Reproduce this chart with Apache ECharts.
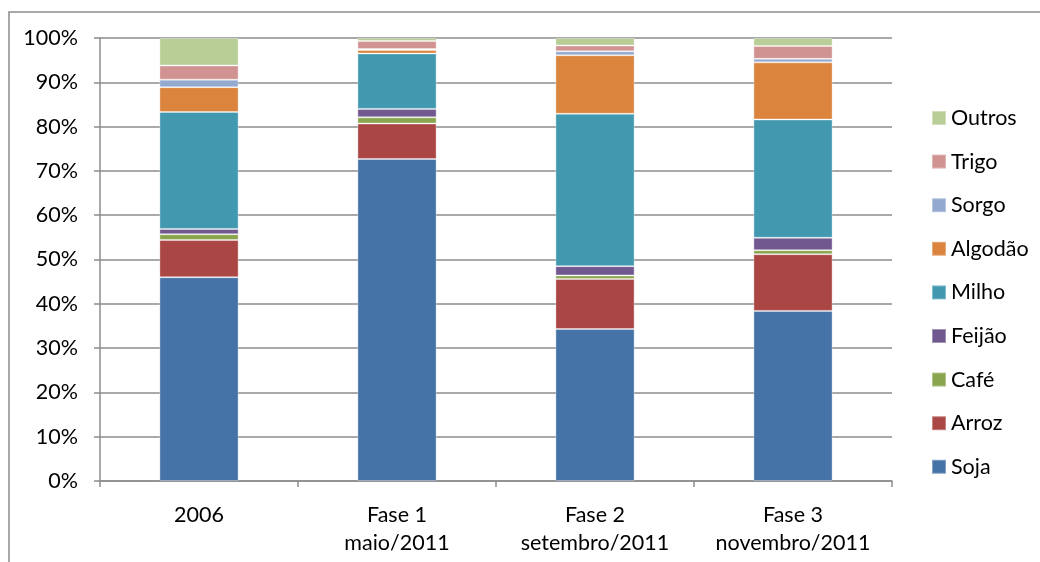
<!DOCTYPE html>
<html>
<head>
<meta charset="utf-8">
<script src="https://cdn.jsdelivr.net/npm/echarts@6/dist/echarts.min.js"></script>
<style>
  html, body { margin: 0; padding: 0; background: #ffffff; }
  #chart { width: 1040px; height: 562px; }
</style>
</head>
<body>
<div id="chart"></div>
<script>
// Categories (x axis)
const categories = ['2006', 'Fase 1\nmaio/2011', 'Fase 2\nsetembro/2011', 'Fase 3\nnovembro/2011'];

// Share of each crop per period (%)
const soja    = [46.0, 72.7, 34.3, 38.4];
const arroz   = [8.4, 8.0, 11.3, 12.8];
const cafe    = [1.3, 1.4, 0.8, 0.9];
const feijao  = [1.2, 1.9, 2.1, 2.8];
const milho   = [26.4, 12.5, 34.4, 26.7];
const algodao = [5.6, 0.8, 13.2, 12.9];
const sorgo   = [1.7, 0.2, 0.9, 0.8];
const trigo   = [3.2, 1.8, 1.3, 2.9];
const outros  = [6.2, 0.7, 1.7, 1.8];

// Y axis tick labels
const yTicks = [0, 10, 20, 30, 40, 50, 60, 70, 80, 90, 100];

const seriesDefs = [
  { name: 'Soja',    data: soja,    color: '#4572A7' },
  { name: 'Arroz',   data: arroz,   color: '#AA4643' },
  { name: 'Café',    data: cafe,    color: '#89A54E' },
  { name: 'Feijão',  data: feijao,  color: '#71588F' },
  { name: 'Milho',   data: milho,   color: '#4198AF' },
  { name: 'Algodão', data: algodao, color: '#DB843D' },
  { name: 'Sorgo',   data: sorgo,   color: '#93A9CF' },
  { name: 'Trigo',   data: trigo,   color: '#D19392' },
  { name: 'Outros',  data: outros,  color: '#B9CD96' }
];

const font = 'Lato, "Open Sans", sans-serif';
const fontSize = 21.5;
const gridColor = '#8c8c8c';

const chart = echarts.init(document.getElementById('chart'), null, { renderer: 'canvas' });

chart.setOption({
  animation: false,
  backgroundColor: '#ffffff',
  graphic: [{
    type: 'rect',
    shape: { x: 9, y: 12, width: 1040, height: 600 },
    style: { fill: 'none', stroke: gridColor, lineWidth: 1.5 },
    silent: true,
    z: -10
  }],
  grid: { left: 100, right: 148, top: 38, bottom: 81, containLabel: false },
  legend: {
    orient: 'vertical',
    left: 931,
    top: 107,
    padding: 0,
    itemWidth: 14,
    itemHeight: 14,
    itemGap: 21.6,
    icon: 'rect',
    data: seriesDefs.map(s => s.name).reverse(),
    textStyle: { fontFamily: font, fontSize: fontSize, color: '#000', lineHeight: 22 }
  },
  xAxis: {
    type: 'category',
    data: categories,
    axisLine: { lineStyle: { color: gridColor, width: 1.5 } },
    axisTick: { show: true, length: 6, alignWithLabel: false, lineStyle: { color: gridColor, width: 1.5 } },
    axisLabel: { fontFamily: font, fontSize: fontSize, color: '#000', margin: 20, lineHeight: 28, interval: 0 }
  },
  yAxis: {
    type: 'value',
    min: 0,
    max: 100,
    interval: 10,
    axisLine: { show: true, lineStyle: { color: gridColor, width: 1.5 } },
    axisTick: { show: true, length: 6, lineStyle: { color: gridColor, width: 1.5 } },
    splitLine: { show: true, lineStyle: { color: gridColor, width: 1.5 } },
    axisLabel: {
      fontFamily: font, fontSize: fontSize, color: '#000', margin: 22,
      formatter: v => (yTicks.indexOf(v) >= 0 ? v + '%' : '')
    }
  },
  series: seriesDefs.map(s => ({
    name: s.name,
    type: 'bar',
    stack: 'total',
    barWidth: '40%',
    data: s.data,
    itemStyle: { color: s.color, borderColor: 'rgba(255,255,255,0.35)', borderWidth: 1 }
  }))
});
</script>
</body>
</html>
